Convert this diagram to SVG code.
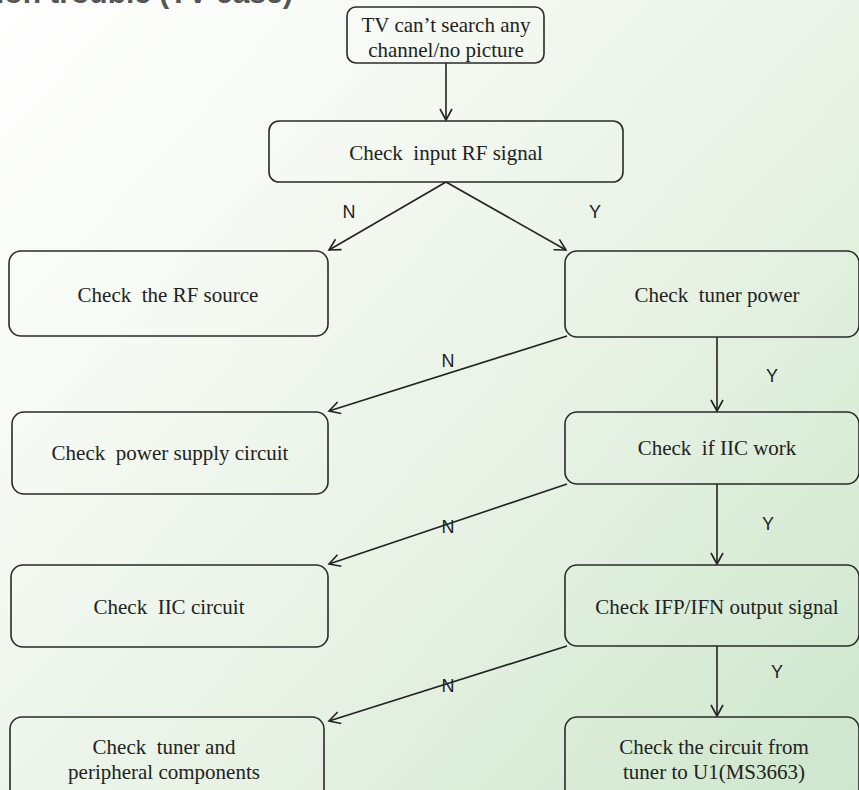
<svg xmlns="http://www.w3.org/2000/svg" width="859" height="790" viewBox="0 0 859 790">
<defs>
<linearGradient id="bg" x1="0" y1="0" x2="859" y2="790" gradientUnits="userSpaceOnUse">
<stop offset="0" stop-color="#ffffff"/>
<stop offset="0.25" stop-color="#f7faf5"/>
<stop offset="0.6" stop-color="#e7f2e4"/>
<stop offset="1" stop-color="#cde6cc"/>
</linearGradient>
<marker id="arr" markerWidth="14" markerHeight="14" refX="12" refY="7" orient="auto" markerUnits="userSpaceOnUse">
<path d="M1,1 L12,7 L1,13" fill="none" stroke="#222" stroke-width="1.6"/>
</marker>
</defs>
<style>
.box{fill:none;stroke:#2a2a2a;stroke-width:1.6}
.t{font-family:"Liberation Serif","Times New Roman",serif;font-size:21px;fill:#222;text-anchor:middle}
.lb{font-family:"Liberation Sans",Arial,sans-serif;font-size:18px;fill:#222;text-anchor:middle}
.c{fill:none;stroke:#222;stroke-width:1.6}
.title{font-family:"Liberation Sans",Arial,sans-serif;font-size:30px;font-weight:bold;fill:#555}
</style>
<rect width="859" height="790" fill="url(#bg)"/>
<text class="title" x="-4" y="3">ion trouble (TV case)</text>

<g id="connectors">
<line class="c" x1="446" y1="63" x2="446" y2="120" marker-end="url(#arr)"/>
<line class="c" x1="446" y1="182" x2="329" y2="250" marker-end="url(#arr)"/>
<line class="c" x1="446" y1="182" x2="566" y2="250" marker-end="url(#arr)"/>
<line class="c" x1="567" y1="336" x2="329" y2="411" marker-end="url(#arr)"/>
<line class="c" x1="717" y1="337" x2="717" y2="411" marker-end="url(#arr)"/>
<line class="c" x1="567" y1="484" x2="329" y2="564" marker-end="url(#arr)"/>
<line class="c" x1="717" y1="484" x2="717" y2="564" marker-end="url(#arr)"/>
<line class="c" x1="567" y1="646" x2="329" y2="721" marker-end="url(#arr)"/>
<line class="c" x1="717" y1="646" x2="717" y2="716" marker-end="url(#arr)"/>
<text class="lb" x="349" y="218">N</text>
<text class="lb" x="595" y="218">Y</text>
<text class="lb" x="448" y="367">N</text>
<text class="lb" x="772" y="382">Y</text>
<text class="lb" x="448" y="533">N</text>
<text class="lb" x="768" y="530">Y</text>
<text class="lb" x="448" y="692">N</text>
<text class="lb" x="777" y="678">Y</text>
</g>

<g id="start">
<rect class="box" x="347" y="7" width="197" height="56" rx="9"/>
<text class="t" x="446" y="32">TV can’t search any</text>
<text class="t" x="446" y="57">channel/no picture</text>
</g>
<g id="check-rf">
<rect class="box" x="269" y="121" width="354" height="61" rx="10"/>
<text class="t" x="446" y="160" xml:space="preserve">Check  input RF signal</text>
</g>
<g id="rf-source">
<rect class="box" x="9" y="251" width="319" height="85" rx="12"/>
<text class="t" x="168" y="302" xml:space="preserve">Check  the RF source</text>
</g>
<g id="tuner-power">
<rect class="box" x="565" y="251" width="294" height="86" rx="12"/>
<text class="t" x="717" y="302" xml:space="preserve">Check  tuner power</text>
</g>
<g id="power-supply">
<rect class="box" x="12" y="412" width="316" height="82" rx="12"/>
<text class="t" x="170" y="460" xml:space="preserve">Check  power supply circuit</text>
</g>
<g id="iic-work">
<rect class="box" x="565" y="412" width="294" height="72" rx="12"/>
<text class="t" x="717" y="455" xml:space="preserve">Check  if IIC work</text>
</g>
<g id="iic-circuit">
<rect class="box" x="11" y="565" width="317" height="82" rx="12"/>
<text class="t" x="169" y="614" xml:space="preserve">Check  IIC circuit</text>
</g>
<g id="ifp-ifn">
<rect class="box" x="565" y="565" width="294" height="81" rx="12"/>
<text class="t" x="717" y="614">Check IFP/IFN output signal</text>
</g>
<g id="tuner-peripheral">
<rect class="box" x="10" y="717" width="314" height="90" rx="12"/>
<text class="t" x="164" y="754" xml:space="preserve">Check  tuner and</text>
<text class="t" x="164" y="779">peripheral components</text>
</g>
<g id="circuit-u1">
<rect class="box" x="565" y="717" width="294" height="90" rx="12"/>
<text class="t" x="714" y="754">Check the circuit from</text>
<text class="t" x="714" y="779">tuner to U1(MS3663)</text>
</g>
</svg>
